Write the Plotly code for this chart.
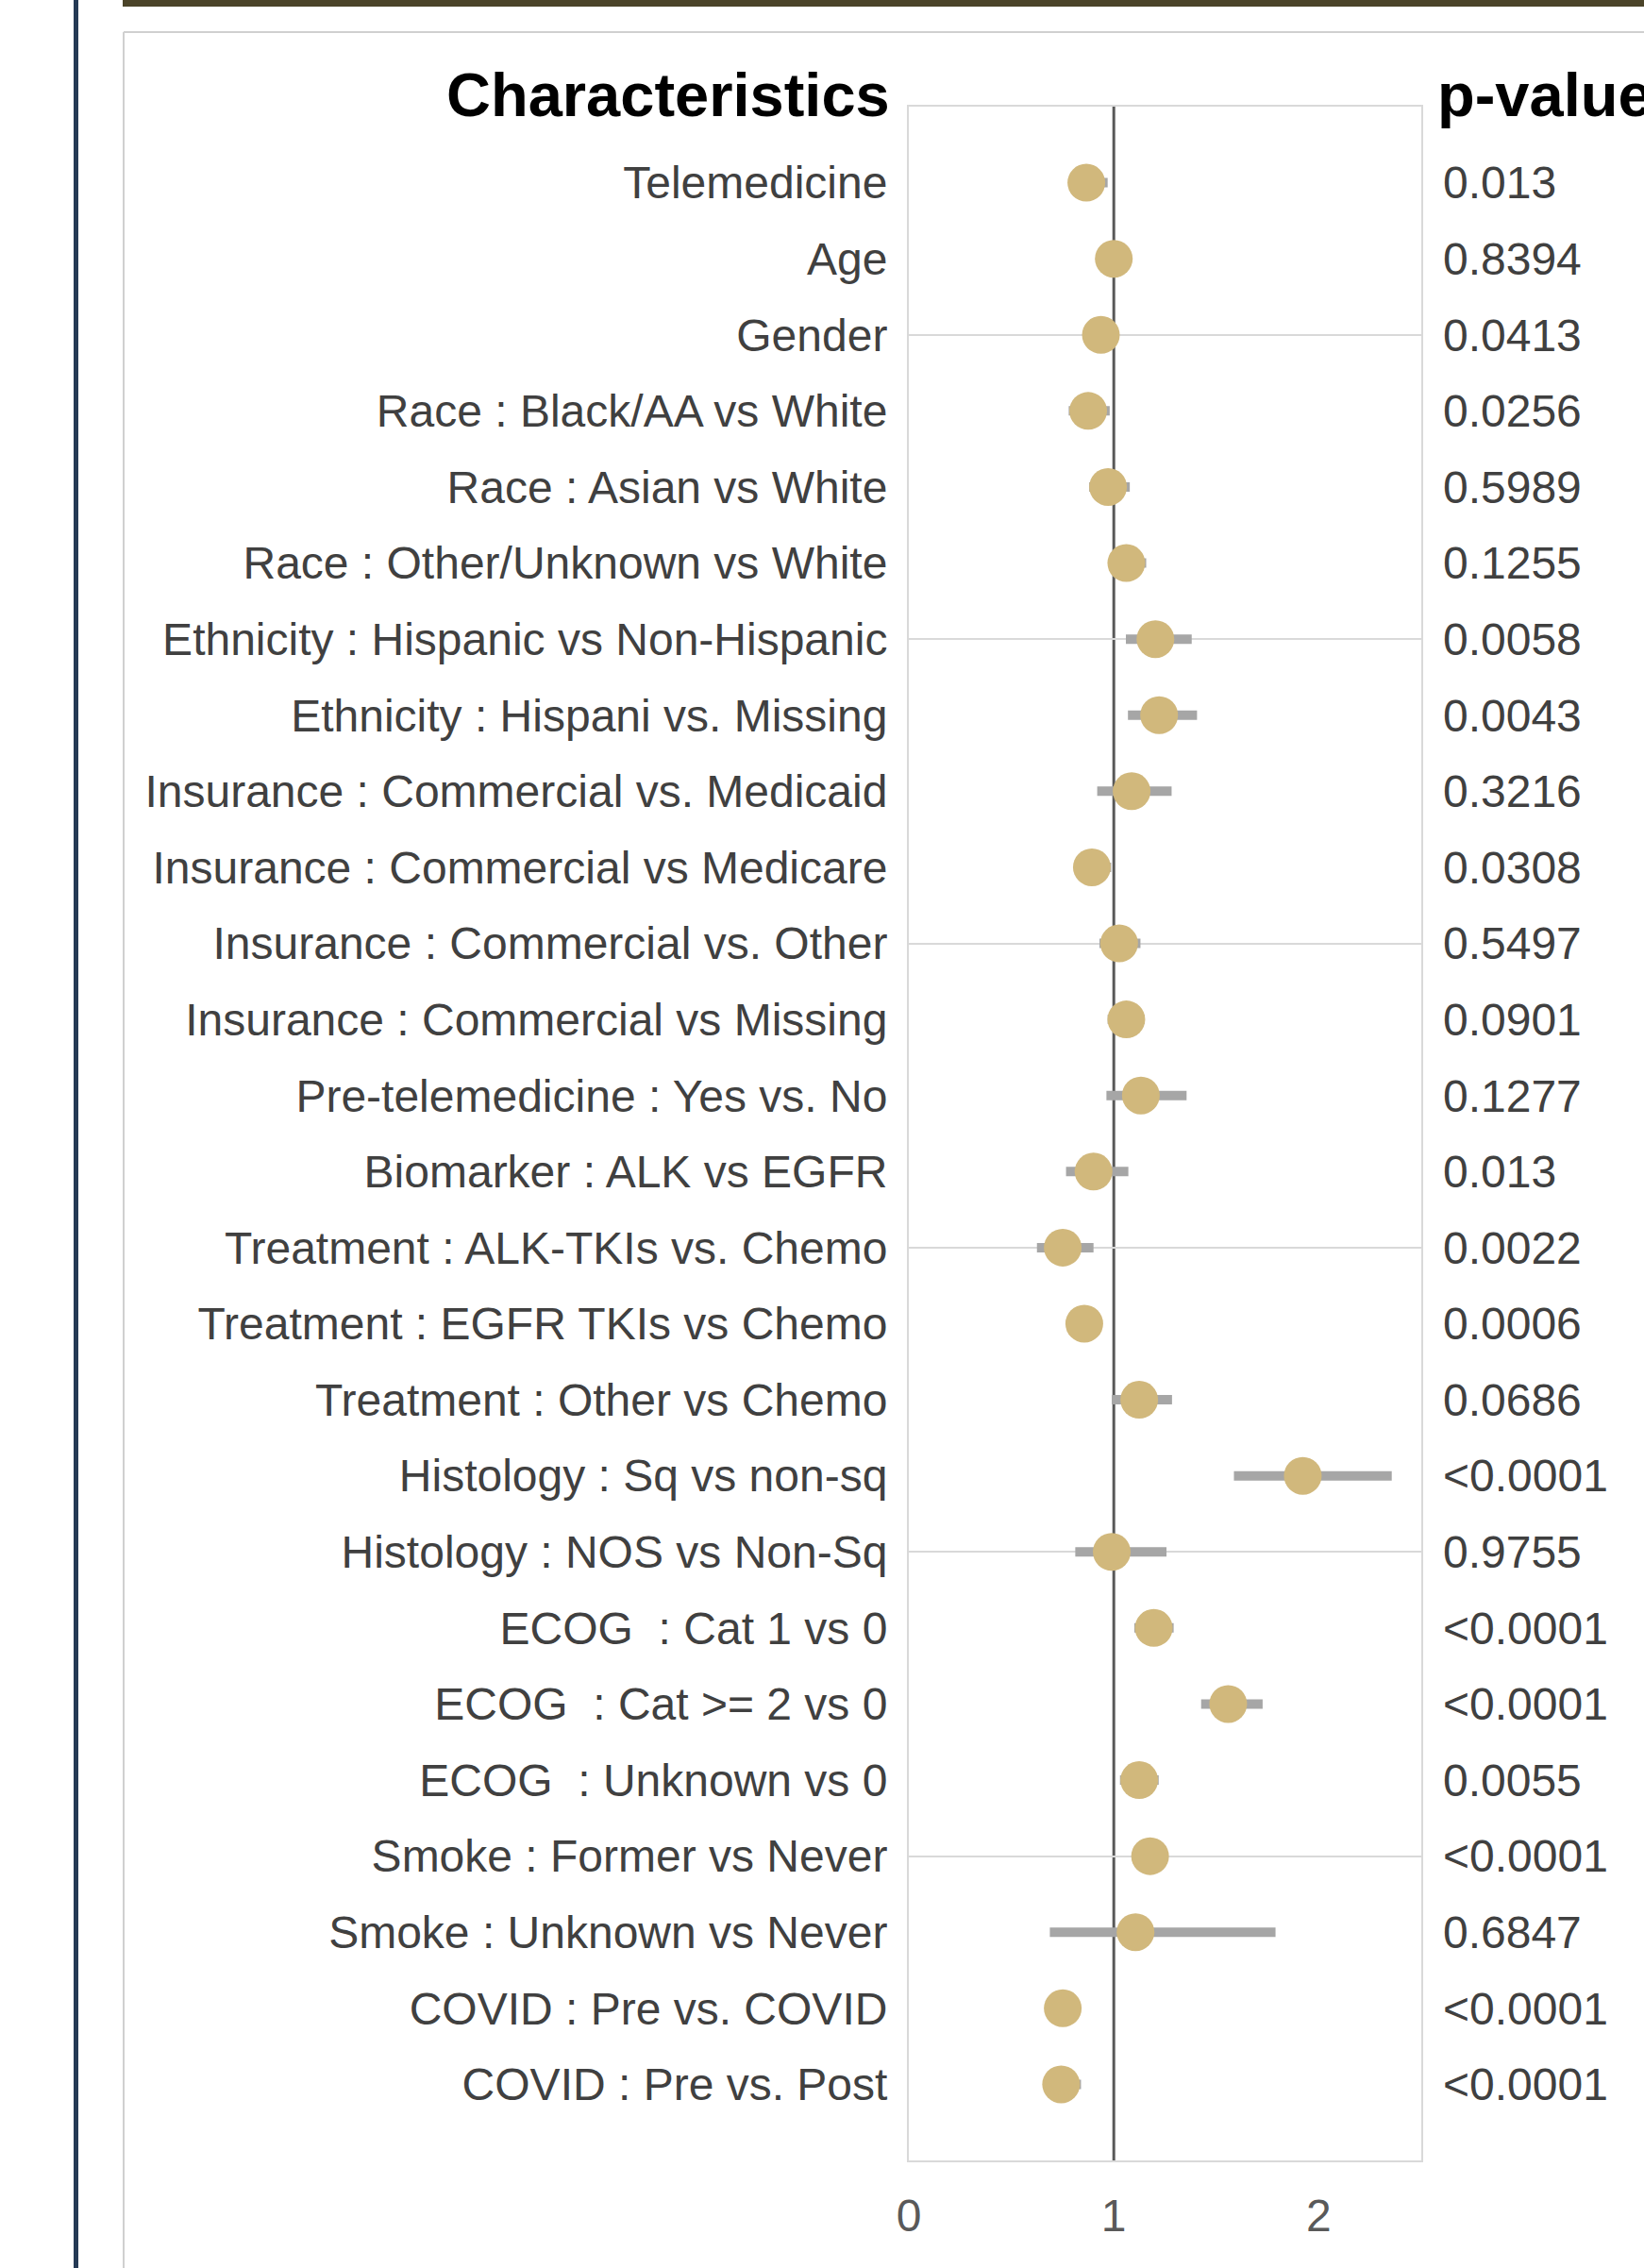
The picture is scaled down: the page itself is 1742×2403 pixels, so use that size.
import plotly.graph_objects as go

# ---------------- data ----------------
labels = [
    "Telemedicine",
    "Age",
    "Gender",
    "Race : Black/AA vs White",
    "Race : Asian vs White",
    "Race : Other/Unknown vs White",
    "Ethnicity : Hispanic vs Non-Hispanic",
    "Ethnicity : Hispani vs. Missing",
    "Insurance : Commercial vs. Medicaid",
    "Insurance : Commercial vs Medicare",
    "Insurance : Commercial vs. Other",
    "Insurance : Commercial vs Missing",
    "Pre-telemedicine : Yes vs. No",
    "Biomarker : ALK vs EGFR",
    "Treatment : ALK-TKIs vs. Chemo",
    "Treatment : EGFR TKIs vs Chemo",
    "Treatment : Other vs Chemo",
    "Histology : Sq vs non-sq",
    "Histology : NOS vs Non-Sq",
    "ECOG\u00a0\u00a0: Cat 1 vs 0",
    "ECOG\u00a0\u00a0: Cat >= 2 vs 0",
    "ECOG\u00a0\u00a0: Unknown vs 0",
    "Smoke : Former vs Never",
    "Smoke : Unknown vs Never",
    "COVID : Pre vs. COVID",
    "COVID : Pre vs. Post",
]
odds_ratio = [0.866, 1.00, 0.937, 0.875, 0.972, 1.061, 1.203, 1.221, 1.087, 0.893,
              1.026, 1.061, 1.132, 0.901, 0.751, 0.856, 1.124, 1.922, 0.990, 1.195,
              1.558, 1.124, 1.177, 1.106, 0.751, 0.743]
ci_low = [0.80, 0.98, 0.89, 0.78, 0.88, 0.98, 1.059, 1.069, 0.919, 0.81,
          0.93, 0.97, 0.964, 0.767, 0.625, 0.79, 0.99, 1.586, 0.812, 1.10,
          1.426, 1.03, 1.10, 0.688, 0.70, 0.66]
ci_high = [0.97, 1.02, 0.985, 0.98, 1.078, 1.158, 1.38, 1.406, 1.282, 0.987,
           1.13, 1.15, 1.355, 1.071, 0.901, 0.93, 1.284, 2.356, 1.257, 1.292,
           1.726, 1.219, 1.26, 1.789, 0.81, 0.84]
p_values = ["0.013", "0.8394", "0.0413", "0.0256", "0.5989", "0.1255", "0.0058",
            "0.0043", "0.3216", "0.0308", "0.5497", "0.0901", "0.1277", "0.013",
            "0.0022", "0.0006", "0.0686", "<0.0001", "0.9755", "<0.0001",
            "<0.0001", "0.0055", "<0.0001", "0.6847", "<0.0001", "<0.0001"]
x_tick_vals = [0, 1, 2]
grid_rows = [2, 6, 10, 14, 18, 22]
header_left = "Characteristics"
header_right = "p-value"

# ---------------- layout constants ----------------
W, H = 1742, 2403
FONT = "Liberation Sans, Arial, Helvetica, sans-serif"
rows = list(range(len(labels)))
err_plus = [h - o for h, o in zip(ci_high, odds_ratio)]
err_minus = [o - l for o, l in zip(odds_ratio, ci_low)]

x_dom = [963 / W, 1506 / W]
y_dom = [1 - 2289 / H, 1 - 113 / H]
y_range = [len(labels), -1]

fig = go.Figure()
fig.add_trace(go.Scatter(
    x=odds_ratio, y=rows, mode="markers",
    marker=dict(size=40, color="#d1b87c", line=dict(width=0)),
    error_x=dict(type="data", symmetric=False, array=err_plus, arrayminus=err_minus,
                 thickness=10, width=0, color="#a6a6a6"),
    hoverinfo="x+y", showlegend=False,
))
# invisible helper traces to activate overlay axes
fig.add_trace(go.Scatter(x=odds_ratio, y=rows, yaxis="y2", mode="markers",
                         marker=dict(opacity=0), hoverinfo="skip", showlegend=False))
fig.add_trace(go.Scatter(x=odds_ratio, y=rows, yaxis="y3", mode="markers",
                         marker=dict(opacity=0), hoverinfo="skip", showlegend=False))

fig.update_layout(
    width=W, height=H,
    margin=dict(l=0, r=0, t=0, b=0, pad=0),
    paper_bgcolor="white", plot_bgcolor="white",
    font=dict(family=FONT, color="#404040"),
    xaxis=dict(domain=x_dom, range=[0, 2.5], tickvals=x_tick_vals, automargin=False,
               showgrid=False, zeroline=False, showline=True, mirror=True,
               linecolor="#d9d9d9", linewidth=2, ticks="",
               ticklabelstandoff=15,
               tickfont=dict(size=48, color="#595959", family=FONT)),
    yaxis=dict(domain=y_dom, range=y_range, tickvals=rows, ticktext=labels,
               automargin=False,
               showgrid=False, zeroline=False, showline=True, mirror=True,
               linecolor="#d9d9d9", linewidth=2, ticks="",
               ticklabelstandoff=11,
               tickfont=dict(size=48, color="#404040", family=FONT)),
    yaxis2=dict(overlaying="y", range=y_range, tickvals=grid_rows, automargin=False,
                showticklabels=False, showgrid=True, gridcolor="#d9d9d9",
                gridwidth=2, zeroline=False, showline=False, ticks=""),
    yaxis3=dict(overlaying="y", side="right", anchor="x", range=y_range,
                automargin=False,
                tickvals=rows, ticktext=p_values, showgrid=False, zeroline=False,
                showline=False, ticks="", ticklabelstandoff=22,
                tickfont=dict(size=48, color="#404040", family=FONT)),
)

# reference line at OR = 1
fig.add_shape(type="line", xref="x", yref="y domain", x0=1, x1=1, y0=0, y1=1,
              line=dict(color="#595959", width=3), layer="below")

# page decorations (kept inside the page bounds)
fig.add_shape(type="rect", xref="paper", yref="paper", x0=78 / W, x1=83 / W, y0=0, y1=1,
              fillcolor="#243a55", line=dict(width=0), layer="below")
fig.add_shape(type="rect", xref="paper", yref="paper", x0=130 / W, x1=1, y0=1 - 7 / H, y1=1,
              fillcolor="#4b4429", line=dict(width=0), layer="below")
fig.add_shape(type="line", xref="paper", yref="paper", x0=131 / W, x1=1,
              y0=1 - 34 / H, y1=1 - 34 / H,
              line=dict(color="#d0d0d0", width=2), layer="below")
fig.add_shape(type="line", xref="paper", yref="paper", x0=131 / W, x1=131 / W,
              y0=0, y1=1 - 34 / H,
              line=dict(color="#d0d0d0", width=2), layer="below")

# column headers
fig.add_annotation(text="<b>" + header_left + "</b>", xref="paper", yref="paper",
                   x=945 / W, y=1 - 101 / H, xanchor="right", yanchor="middle",
                   showarrow=False, font=dict(size=65, color="black", family=FONT))
fig.add_annotation(text="<b>" + header_right + "</b>", xref="paper", yref="paper",
                   x=1521 / W, y=1 - 101 / H, xanchor="left", yanchor="middle",
                   showarrow=False, font=dict(size=65, color="black", family=FONT))

fig.write_html("out.html")
